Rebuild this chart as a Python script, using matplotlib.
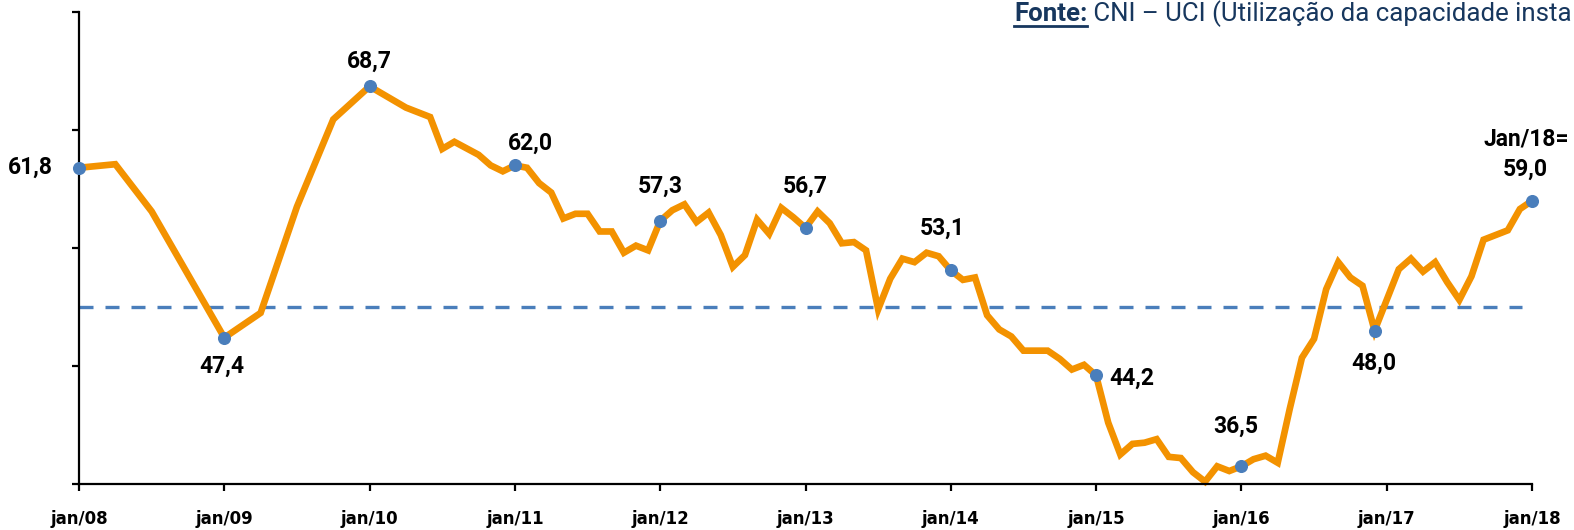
import matplotlib
matplotlib.use("Agg")
import matplotlib.pyplot as plt
from matplotlib.lines import Line2D

# ---------------- data ----------------
# month index counted from jan/08 (0) to jan/18 (120)
months = [0, 3, 6, 12, 15, 18, 21, 24, 27, 29, 30, 31, 33, 34, 35, 36, 37, 38, 39,
          40, 41, 42, 43, 44, 45, 46, 47, 48, 49, 50, 51, 52, 53, 54, 55, 56, 57,
          58, 59, 60, 61, 62, 63, 64, 65, 66, 67, 68, 69, 70, 71, 72, 73, 74, 75,
          76, 77, 78, 79, 80, 81, 82, 83, 84, 85, 86, 87, 88, 89, 90, 91, 92, 93,
          94, 95, 96, 97, 98, 99, 100, 101, 102, 103, 104, 105, 106, 107, 109,
          110, 111, 112, 113, 114, 115, 116, 117, 118, 119, 120]
values = [61.8, 62.1, 58.1, 47.4, 49.5, 58.5, 65.9, 68.7, 66.9, 66.1, 63.4, 64.0,
          62.9, 62.0, 61.5, 62.0, 61.8, 60.5, 59.7, 57.5, 57.9, 57.9, 56.4, 56.4,
          54.6, 55.2, 54.8, 57.3, 58.2, 58.7, 57.2, 58.0, 56.1, 53.4, 54.4, 57.4,
          56.2, 58.4, 57.6, 56.7, 58.1, 57.1, 55.4, 55.5, 54.8, 49.8, 52.4, 54.1,
          53.8, 54.6, 54.3, 53.1, 52.3, 52.5, 49.3, 48.1, 47.5, 46.3, 46.3, 46.3,
          45.6, 44.7, 45.1, 44.2, 40.2, 37.5, 38.4, 38.5, 38.8, 37.3, 37.2, 36.0,
          35.2, 36.5, 36.1, 36.5, 37.1, 37.4, 36.8, 41.4, 45.7, 47.3, 51.5, 53.8,
          52.5, 51.8, 48.0, 53.2, 54.1, 53.0, 53.8, 52.1, 50.6, 52.6, 55.7, 56.1,
          56.5, 58.3, 59.0]

marker_months = [0, 12, 24, 36, 48, 60, 72, 84, 96, 107, 120]
marker_values = [61.8, 47.4, 68.7, 62.0, 57.3, 56.7, 53.1, 44.2, 36.5, 48.0, 59.0]

reference_level = 50.0

tick_months = [0, 12, 24, 36, 48, 60, 72, 84, 96, 108, 120]
tick_labels = ["jan/08", "jan/09", "jan/10", "jan/11", "jan/12", "jan/13",
               "jan/14", "jan/15", "jan/16", "jan/17", "jan/18"]
y_ticks = [35, 45, 55, 65, 75]

source_bold = "Fonte:"
source_rest = " CNI \u2013 UCI (Utilização da capacidade insta"
last_prefix = "Jan/18="

# ---------------- style ----------------
ORANGE = "#F39200"
BLUE = "#4A7EBB"
NAVY = "#17375E"
LABFONT = ["Roboto", "DejaVu Sans"]

W, H = 1574, 530
fig = plt.figure(figsize=(W / 100, H / 100), dpi=100)
ax = fig.add_axes([79 / W, 1 - 484 / H, (1532 - 79) / W, (484 - 12) / H])

ax.axhline(reference_level, xmax=0.993, color=BLUE, lw=2.4,
           ls=(0, (4.2, 3.6)), zorder=1)
ax.plot(months, values, color=ORANGE, lw=4.8, solid_joinstyle="miter",
        clip_on=False, zorder=2)
ax.plot(marker_months, marker_values, ls="none", marker="o", ms=8.4,
        color=BLUE, clip_on=False, zorder=3)

ax.set_xlim(0, 120)
ax.set_ylim(35, 75)
ax.set_xticks(tick_months)
ax.set_xticklabels(tick_labels, fontsize=12, fontweight="bold",
                   family="DejaVu Sans")
ax.set_yticks(y_ticks)
ax.set_yticklabels([])
for s in ["top", "right"]:
    ax.spines[s].set_visible(False)
for s in ["left", "bottom"]:
    ax.spines[s].set_linewidth(1.6)
    ax.spines[s].set_color("black")
ax.tick_params(axis="both", length=5, width=1.6, color="black")
ax.tick_params(axis="x", pad=14)

# label offsets (pixels -> points)
px = 0.72
offsets = [(-26, 0, "right"), (-2, -29, "center"), (0, 25, "center"),
           (15, 22, "center"), (0, 35, "center"), (0, 42, "center"),
           (-9, 42, "center"), (13, -3, "left"), (-6, 40, "center"),
           (-1, -33, "center"), (-7, 32, "center")]
lab_kw = dict(fontsize=16.5, fontweight="bold", family=LABFONT, color="black")
for m, v, (dx, dy, ha) in zip(marker_months, marker_values, offsets):
    ax.annotate(f"{v:.1f}".replace(".", ","), (m, v),
                xytext=(dx * px, dy * px), textcoords="offset points",
                ha=ha, va="center", annotation_clip=False, **lab_kw)
ax.annotate(last_prefix, (marker_months[-1], marker_values[-1]),
            xytext=(-6 * px, 62 * px), textcoords="offset points",
            ha="center", va="center", annotation_clip=False, **lab_kw)

# source line at the top (right part anchored to the right edge)
base_y = 1 - 21 / H
t2 = fig.text(1572 / W, base_y, source_rest, fontsize=18.6, family=LABFONT,
              color=NAVY, va="baseline", ha="right")
fig.canvas.draw()
r = fig.canvas.get_renderer()
bb2 = t2.get_window_extent(r)
t1 = fig.text(bb2.x0 / W, base_y, source_bold, fontsize=18.6, fontweight="bold",
              family=LABFONT, color=NAVY, va="baseline", ha="right")
bb1 = t1.get_window_extent(r)
fig.add_artist(Line2D([bb1.x0 / W, bb1.x1 / W], [1 - 25.5 / H, 1 - 25.5 / H],
                      transform=fig.transFigure, color=NAVY, lw=2))

fig.savefig("out.png", dpi=100)
